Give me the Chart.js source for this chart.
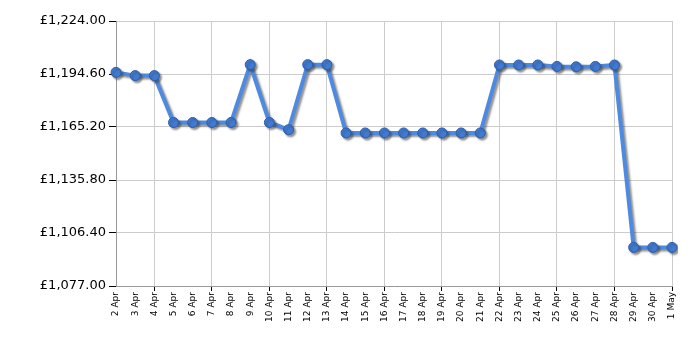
<!DOCTYPE html>
<html>
<head>
<meta charset="utf-8">
<script src="https://cdn.jsdelivr.net/npm/chart.js@4/dist/chart.umd.min.js"></script>
<style>
  html, body { margin: 0; padding: 0; background: #fff; }
  #wrap { width: 700px; height: 350px; }
</style>
</head>
<body>
<div id="wrap"><canvas id="priceChart"></canvas></div>
<script>
    const dateLabels = [
        '2 Apr', '3 Apr', '4 Apr', '5 Apr', '6 Apr', '7 Apr', '8 Apr', '9 Apr', '10 Apr', '11 Apr',
        '12 Apr', '13 Apr', '14 Apr', '15 Apr', '16 Apr', '17 Apr', '18 Apr', '19 Apr', '20 Apr', '21 Apr',
        '22 Apr', '23 Apr', '24 Apr', '25 Apr', '26 Apr', '27 Apr', '28 Apr', '29 Apr', '30 Apr', '1 May'
    ];
    const prices = [
        1195.5, 1193.7, 1193.7, 1167.7, 1167.7, 1167.7, 1167.7, 1199.8, 1167.7, 1163.7,
        1199.8, 1199.8, 1161.9, 1161.9, 1161.9, 1161.9, 1161.9, 1161.9, 1161.9, 1161.9,
        1199.6, 1199.6, 1199.6, 1198.8, 1198.6, 1198.8, 1199.6, 1098.4, 1098.4, 1098.4
    ];
    const yTicks = [1077.00, 1106.40, 1135.80, 1165.20, 1194.60, 1224.00];

    const fmtGBP = v => '£' + Number(v).toLocaleString('en-GB', { minimumFractionDigits: 2, maximumFractionDigits: 2 });
    const isMajor = i => i % 3 === 2;

    // soft grey drop shadow under the line and markers
    const shadowPlugin = {
        id: 'lineShadow',
        beforeDatasetsDraw(chart) {
            const ctx = chart.ctx;
            ctx.save();
            ctx.shadowColor = 'rgba(60,60,60,0.55)';
            ctx.shadowOffsetX = 2;
            ctx.shadowOffsetY = 2;
            ctx.shadowBlur = 2;
        },
        afterDatasetsDraw(chart) {
            chart.ctx.restore();
        }
    };

    new Chart(document.getElementById('priceChart'), {
        type: 'line',
        data: {
            labels: dateLabels,
            datasets: [{
                data: prices,
                borderColor: '#4d8ae0',
                borderWidth: 4,
                pointRadius: 5,
                pointBackgroundColor: '#3f7ad4',
                pointBorderColor: '#2c5ca8',
                pointBorderWidth: 1,
                tension: 0,
            }]
        },
        plugins: [shadowPlugin],
        options: {
            responsive: true,
            maintainAspectRatio: false,
            animation: false,
            layout: { padding: { top: 21, right: 28, left: 0, bottom: 0 } },
            plugins: {
                legend: { display: false },
                tooltip: { enabled: false },
            },
            scales: {
                x: {
                    offset: false,
                    afterFit: s => { s.height = 64; },
                    border: { color: '#999', width: 1 },
                    grid: {
                        color: c => isMajor(c.index) ? '#ccc' : 'rgba(0,0,0,0)',
                        tickColor: c => isMajor(c.index) ? '#000' : 'rgba(0,0,0,0)',
                        tickLength: 5,
                    },
                    ticks: {
                        autoSkip: false,
                        maxRotation: 90,
                        minRotation: 90,
                        padding: 1,
                        color: '#000',
                        font: { family: 'DejaVu Sans', size: 9 },
                    }
                },
                y: {
                    min: 1077,
                    max: 1224,
                    afterFit: s => { s.width = 116; },
                    afterBuildTicks: s => { s.ticks = yTicks.map(v => ({ value: v })); },
                    border: { color: '#999', width: 1 },
                    grid: {
                        color: '#ccc',
                        tickColor: '#000',
                        tickLength: 7,
                    },
                    ticks: {
                        padding: 3,
                        color: '#000',
                        font: { family: 'DejaVu Sans', size: 13 },
                        callback: v => fmtGBP(v),
                    }
                }
            }
        }
    });
</script>
</body>
</html>
